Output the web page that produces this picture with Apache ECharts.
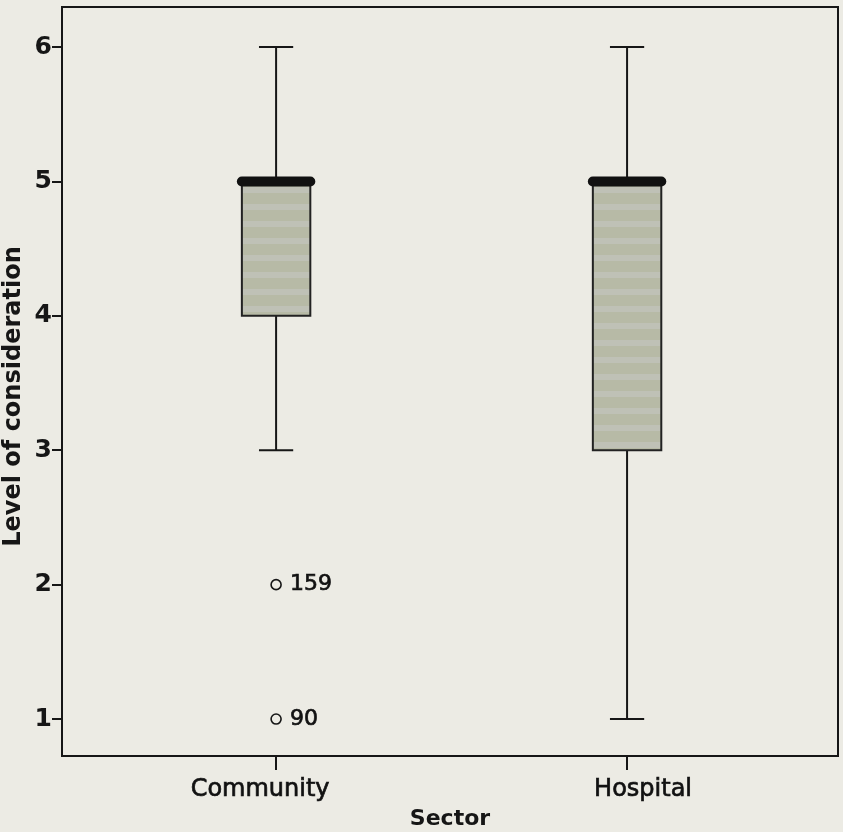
<!DOCTYPE html>
<html>
<head>
<meta charset="utf-8">
<title>Level of consideration by sector</title>
<script src="https://cdn.jsdelivr.net/npm/echarts@6/dist/echarts.min.js"></script>
<style>
  html, body { margin: 0; padding: 0; background: #ecebe4; }
  #chart { width: 843px; height: 832px; }
</style>
</head>
<body>
<div id="chart"></div>
<script>
// Sectors and their positions on the horizontal axis
const categories = ['Community', 'Hospital'];
const categoryPositions = [1, 2];

// Box statistics per sector: [lower whisker, Q1, median, Q3, upper whisker]
const lowerWhisker = [3, 1];
const quartile1 = [4, 3];
const medians = [5, 5];
const quartile3 = [5, 5];
const upperWhisker = [6, 6];

// Outlying cases: sector position, value, case number
const outlierPositions = [1, 1];
const outlierValues = [2, 1];
const outlierCases = ['159', '90'];

// Vertical axis ticks
const yTicks = [1, 2, 3, 4, 5, 6];

const ink = '#161616';
const fontFamily = '"DejaVu Sans", sans-serif';
// slightly heavier regular text
const heavy = { textBorderColor: '#161616', textBorderWidth: 0.7 };

// Faint halftone-like striped fill for the boxes
function stripedFill() {
  const c = document.createElement('canvas');
  c.width = 4; c.height = 17;
  const g = c.getContext('2d');
  g.fillStyle = '#b7baa6';
  g.fillRect(0, 0, 4, 17);
  g.fillStyle = '#bfc1b6';
  g.fillRect(0, 0, 4, 6);
  return { image: c, repeat: 'repeat' };
}
const boxFill = stripedFill();

const boxData = categoryPositions.map((x, i) => [
  x, lowerWhisker[i], quartile1[i], medians[i], quartile3[i], upperWhisker[i]
]);
const outlierData = outlierPositions.map((x, i) => [x, outlierValues[i]]);

function renderBox(params, api) {
  const x = api.value(0);
  const pLow = api.coord([x, api.value(1)]);
  const pQ1 = api.coord([x, api.value(2)]);
  const pMed = api.coord([x, api.value(3)]);
  const pQ3 = api.coord([x, api.value(4)]);
  const pHigh = api.coord([x, api.value(5)]);
  const unit = api.size([1, 0])[0];
  const boxW = unit * 0.195;
  const capW = boxW * 0.5;
  const cx = pMed[0];
  const line = (x1, y1, x2, y2, w) => ({
    type: 'line',
    shape: { x1, y1, x2, y2 },
    style: { stroke: ink, lineWidth: w, lineCap: 'butt' }
  });
  return {
    type: 'group',
    children: [
      line(cx, pQ3[1], cx, pHigh[1], 2),
      line(cx, pQ1[1], cx, pLow[1], 2),
      line(cx - capW / 2, pHigh[1], cx + capW / 2, pHigh[1], 2),
      line(cx - capW / 2, pLow[1], cx + capW / 2, pLow[1], 2),
      {
        type: 'rect',
        shape: { x: cx - boxW / 2, y: pQ3[1], width: boxW, height: pQ1[1] - pQ3[1] },
        style: { fill: boxFill, stroke: '#222', lineWidth: 2 }
      },
      {
        type: 'line',
        shape: { x1: cx - boxW / 2, y1: pMed[1], x2: cx + boxW / 2, y2: pMed[1] },
        style: { stroke: '#111', lineWidth: 10, lineCap: 'round' }
      }
    ]
  };
}

const chart = echarts.init(document.getElementById('chart'), null, { renderer: 'canvas' });

chart.setOption({
  backgroundColor: '#ecebe4',
  animation: false,
  grid: {
    left: 62, right: 5, top: 7, bottom: 76,
    outerBoundsMode: 'none',
    containLabel: false,
    show: true, borderColor: ink, borderWidth: 2, backgroundColor: 'transparent'
  },
  xAxis: {
    type: 'value',
    min: 0.39, max: 2.601,
    name: 'Sector',
    nameLocation: 'middle',
    nameGap: 52,
    nameMoveOverlap: false,
    nameTextStyle: { fontFamily, fontSize: 22, fontWeight: 'bold', color: ink },
    axisLine: { show: true, lineStyle: { color: ink, width: 2 } },
    axisTick: { show: true, length: 14, customValues: categoryPositions, lineStyle: { color: ink, width: 2 } },
    axisLabel: {
      customValues: categoryPositions,
      margin: 22,
      formatter: v => {
        const i = categoryPositions.indexOf(v);
        return i === 0 ? '{left|' + categories[i] + '}' : '{right|' + categories[i] + '}';
      },
      rich: {
        left: Object.assign({ fontFamily, fontSize: 24, color: '#111', padding: [0, 32, 0, 0] }, heavy),
        right: Object.assign({ fontFamily, fontSize: 24, color: '#111', padding: [0, 0, 0, 32] }, heavy)
      }
    },
    splitLine: { show: false }
  },
  yAxis: {
    type: 'value',
    min: 0.725, max: 6.298,
    name: 'Level of consideration',
    nameLocation: 'middle',
    nameRotate: 90,
    nameGap: 36,
    nameMoveOverlap: false,
    nameTextStyle: { fontFamily, fontSize: 24, fontWeight: 'bold', color: ink, padding: [0, 30, 0, 0] },
    axisLine: { show: true, lineStyle: { color: ink, width: 2 } },
    axisTick: { show: true, length: 10, customValues: yTicks, lineStyle: { color: ink, width: 2 } },
    axisLabel: {
      customValues: yTicks,
      margin: 10,
      fontFamily, fontSize: 25, fontWeight: 'bold', color: ink
    },
    splitLine: { show: false }
  },
  series: [
    {
      type: 'custom',
      name: 'Level of consideration',
      data: boxData,
      encode: { x: 0, y: [1, 2, 3, 4, 5] },
      renderItem: renderBox,
      z: 2
    },
    {
      type: 'scatter',
      name: 'Outliers',
      data: outlierData,
      symbol: 'circle',
      symbolSize: 10,
      itemStyle: { color: 'transparent', borderColor: ink, borderWidth: 1.6, opacity: 1 },
      label: Object.assign({
        show: true,
        position: 'right',
        distance: 8,
        formatter: p => outlierCases[p.dataIndex],
        fontFamily, fontSize: 22, color: '#111'
      }, heavy),
      z: 3
    }
  ]
});
</script>
</body>
</html>
